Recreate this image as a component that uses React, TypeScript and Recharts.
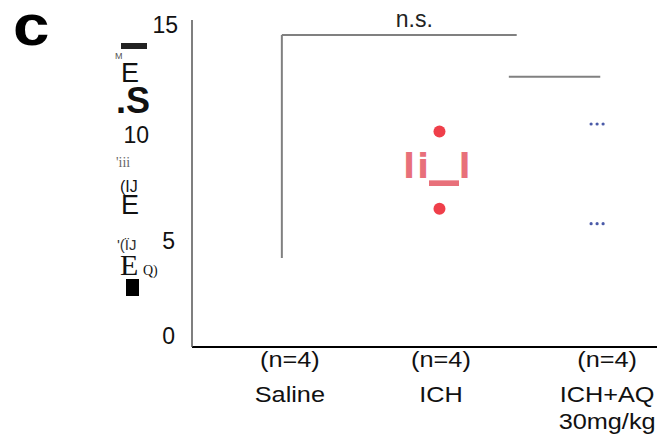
import React from 'react';
import { ScatterChart, Scatter, XAxis, YAxis, ReferenceLine } from 'recharts';

// groups along the x axis (index 1..3)
const groupNames = ['Saline', 'ICH', 'ICH+AQ'];
const groupCounts = ['(n=4)', '(n=4)', '(n=4)'];
const groupDose = ['', '', '30mg/kg'];
const yTicks = [0, 5, 10, 15];

// values
const ichValues = [10.05, 6.45];
const ichMean = [8.3];
const aqValues = [10.4, 5.75];
const salineRange = [4.15, 14.55];
const nsBracketEnd = 2.49;
const aqLine = { y: 12.6, from: 2.44, to: 3.02 };

const ichData = ichValues.map((v) => ({ x: 2, y: v }));
const ichMeanData = ichMean.map((v) => ({ x: 2, y: v }));
const aqData = aqValues.map((v) => ({ x: 3, y: v }));

const FONT = '"Liberation Sans", Arial, sans-serif';
const SERIF = '"Liberation Serif", "DejaVu Serif", serif';

// odd positions of the tick labels in the scan
const yTickShift: Record<number, { dx: number; dy: number }> = {
  15: { dx: -16, dy: 7.6 },
  10: { dx: -45, dy: 10 },
  5: { dx: -19, dy: 9 },
  0: { dx: -19, dy: -3 },
};
const xTickShift = [8, 1.5, 10];

const YTick = (props: any) => {
  const { x, y, payload } = props;
  const s = yTickShift[payload.value] || { dx: -10, dy: 7 };
  return (
    <text x={x + 10 + s.dx} y={y + s.dy} textAnchor="end" fontSize={23} fontFamily={FONT} fill="#111">
      {payload.value}
    </text>
  );
};

const XTick = (props: any) => {
  const { x, y, payload } = props;
  const i = payload.value - 1;
  const cx = x + (xTickShift[i] || 0);
  return (
    <g transform={`translate(${cx},${y}) scale(1.15,1)`} fontFamily={FONT} fontSize={22} fill="#111" textAnchor="middle">
      <text x={0} y={12}>{groupCounts[i]}</text>
      <text x={0} y={47}>{groupNames[i]}</text>
      {groupDose[i] && <text x={0} y={74}>{groupDose[i]}</text>}
    </g>
  );
};

const RedDot = (props: any) => <circle cx={props.cx} cy={props.cy} r={6} fill="#ef3f4a" />;

const BlueDots = (props: any) => (
  <g fill="#4a5aa8">
    <circle cx={props.cx - 6} cy={props.cy} r={1.6} />
    <circle cx={props.cx} cy={props.cy} r={1.6} />
    <circle cx={props.cx + 6} cy={props.cy} r={1.6} />
  </g>
);

// the garbled mean/sem glyphs in the scan
const MeanGlyph = (props: any) => {
  const { cx, cy } = props;
  return (
    <text fill="#e8707a" fontFamily='"DejaVu Sans", sans-serif' fontWeight="bold" textAnchor="middle">
      <tspan x={cx - 30.5} y={cy + 9} fontSize={34}>l</tspan>
      <tspan x={cx - 16.5} y={cy + 9} fontSize={34}>i</tspan>
      <tspan x={cx + 4.5} y={cy + 3} fontSize={60}>_</tspan>
      <tspan x={cx + 25} y={cy + 9} fontSize={34}>l</tspan>
    </text>
  );
};

export default function App() {
  return (
    <div style={{ position: 'relative', width: 661, height: 439, background: '#fff' }}>
      <style>{'body{margin:0}'}</style>
      <ScatterChart width={661} height={439} margin={{ top: 20, right: 4, left: 112, bottom: 12 }}>
        <XAxis
          type="number"
          dataKey="x"
          domain={[0.43, 3.38]}
          ticks={[1, 2, 3]}
          allowDataOverflow
          height={80}
          axisLine={{ stroke: '#000', strokeWidth: 2 }}
          tickLine={false}
          tick={<XTick />}
          interval={0}
        />
        <YAxis
          type="number"
          dataKey="y"
          domain={[0, 15.25]}
          ticks={yTicks}
          allowDataOverflow
          width={80}
          axisLine={{ stroke: '#555', strokeWidth: 1.5 }}
          tickLine={false}
          tick={<YTick />}
          interval={0}
        />
        <ReferenceLine
          segment={[{ x: 1, y: salineRange[0] }, { x: 1, y: salineRange[1] }]}
          stroke="#808080"
          strokeWidth={2}
        />
        <ReferenceLine
          segment={[{ x: 1, y: salineRange[1] }, { x: nsBracketEnd, y: salineRange[1] }]}
          stroke="#808080"
          strokeWidth={2}
          label={{ value: 'n.s.', position: 'top', dx: 15, offset: 8, fontSize: 23, fontFamily: FONT, fill: '#222' }}
        />
        <ReferenceLine
          segment={[{ x: aqLine.from, y: aqLine.y }, { x: aqLine.to, y: aqLine.y }]}
          stroke="#808080"
          strokeWidth={2}
        />
        <Scatter data={ichData} shape={<RedDot />} isAnimationActive={false} />
        <Scatter data={ichMeanData} shape={<MeanGlyph />} isAnimationActive={false} />
        <Scatter data={aqData} shape={<BlueDots />} isAnimationActive={false} />
      </ScatterChart>
      <svg width={661} height={439} style={{ position: 'absolute', left: 0, top: 0, pointerEvents: 'none' }}>
        <text transform="translate(13,45) scale(1.15,1)" fontSize={57} fontWeight={900} fontFamily={FONT} fill="#000">c</text>
        <rect x={121} y={43} width={26} height={6} fill="#222" />
        <rect x={126} y={279} width={13} height={17} fill="#000" />
        {/* scrambled y-axis title, as it appears in the scan */}
        <text fontFamily={FONT} fill="#111">
          <tspan x={115} y={59} fontSize={9} fill="#555">M</tspan>
          <tspan x={121} y={82} fontSize={27}>E</tspan>
          <tspan x={116} y={113} fontSize={36} fontWeight="bold">.S</tspan>
          <tspan x={116} y={167} fontSize={14} fontFamily={SERIF} fill="#666">'iii</tspan>
          <tspan x={120} y={192} fontSize={16}>(IJ</tspan>
          <tspan x={121} y={214} fontSize={27}>E</tspan>
          <tspan x={117} y={250} fontSize={15} fill="#333">'(ÏJ</tspan>
          <tspan x={120} y={275} fontSize={30} fontFamily={SERIF}>E</tspan>
          <tspan x={143} y={275} fontSize={14} fontFamily={SERIF}>Q)</tspan>
        </text>
      </svg>
    </div>
  );
}
